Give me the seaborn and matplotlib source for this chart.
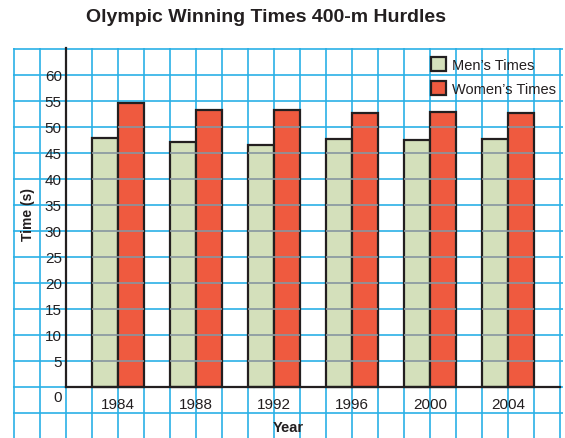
import pandas as pd
import matplotlib.pyplot as plt
import matplotlib.ticker as mtick
import seaborn as sns

# data
years = ['1984', '1988', '1992', '1996', '2000', '2004']
mens_times = [47.8, 47.2, 46.5, 47.6, 47.5, 47.6]
womens_times = [54.6, 53.2, 53.3, 52.6, 52.9, 52.6]
series = ["Men\u2019s Times", "Women\u2019s Times"]
y_ticks = [5, 10, 15, 20, 25, 30, 35, 40, 45, 50, 55, 60]

df = pd.DataFrame({
    'Year': years * 2,
    'Time': mens_times + womens_times,
    'Series': [series[0]] * len(years) + [series[1]] * len(years),
})

GRID = '#2AB0E6'
INK = '#231F20'
GREEN = '#D4E0BB'
RED = '#EF5A3F'

sns.set_style('white')
plt.rcParams['font.family'] = ['Liberation Sans', 'DejaVu Sans']

fig = plt.figure(figsize=(5.65, 4.39), dpi=100)
ax = fig.add_axes([13 / 565, 0, 550 / 565, 390 / 439])

sns.barplot(data=df, x='Year', y='Time', hue='Series', palette=[GREEN, RED],
            width=2 / 3, gap=0, saturation=1, edgecolor=INK, linewidth=1.6,
            errorbar=None, ax=ax, zorder=2)

ax.set_xlim(-1.346, 5.705)
ax.set_ylim(-9.81, 65.19)

# graph paper grid
ax.set_axisbelow(True)
ax.xaxis.set_minor_locator(mtick.MultipleLocator(1 / 3))
ax.yaxis.set_minor_locator(mtick.MultipleLocator(5))
ax.grid(which='both', color=GRID, linewidth=1.2)
ax.tick_params(which='both', length=0)

# grid lines showing faintly through the bars
grid_y = [v for v in range(-5, 66, 5)]
for bar in ax.patches:
    ln = ax.hlines(grid_y, -1.4, 5.8, colors='#8796A0', linewidth=1.2, zorder=3)
    ln.set_clip_path(bar)

# axes lines
for s in ['top', 'right']:
    ax.spines[s].set_visible(False)
ax.spines['left'].set_position(('data', -2 / 3))
ax.spines['left'].set_bounds(0, 65.19)
ax.spines['bottom'].set_position(('data', 0))
ax.spines['bottom'].set_bounds(-2 / 3, 17 / 3)
for s in ['left', 'bottom']:
    ax.spines[s].set_color(INK)
    ax.spines[s].set_linewidth(1.6)
    ax.spines[s].set_zorder(4)

ax.set_yticks(y_ticks)
ax.tick_params(axis='y', labelsize=11, labelcolor=INK, pad=3)
ax.tick_params(axis='x', labelsize=11, labelcolor=INK, pad=7.5)
ax.text(-0.72, -1.92, '0', ha='right', va='center', fontsize=11, color=INK)

ax.set_xlabel('Year', fontsize=10.5, fontweight='bold', color=INK, va='center')
ax.xaxis.set_label_coords(0.5, (9.81 - 7.6) / 75.0)
ax.set_ylabel('Time (s)', fontsize=10, fontweight='bold', color=INK, va='center')
ax.yaxis.set_label_coords((1.346 - 1.15) / 7.051, (9.81 + 33.4) / 75.0)

handles, labels = ax.get_legend_handles_labels()
ax.legend(handles, labels, loc='upper left', bbox_to_anchor=(0.76, 0.977),
          frameon=False, fontsize=10.5, handlelength=1.05, handleheight=1.1,
          handletextpad=0.4, labelspacing=0.6, borderpad=0, borderaxespad=0,
          labelcolor=INK)

fig.text(0.47, 1 - 17.5 / 439, 'Olympic Winning Times 400-m Hurdles', ha='center',
         va='center', fontsize=14, fontweight='bold', color=INK)

fig.savefig('out.png', dpi=100)
